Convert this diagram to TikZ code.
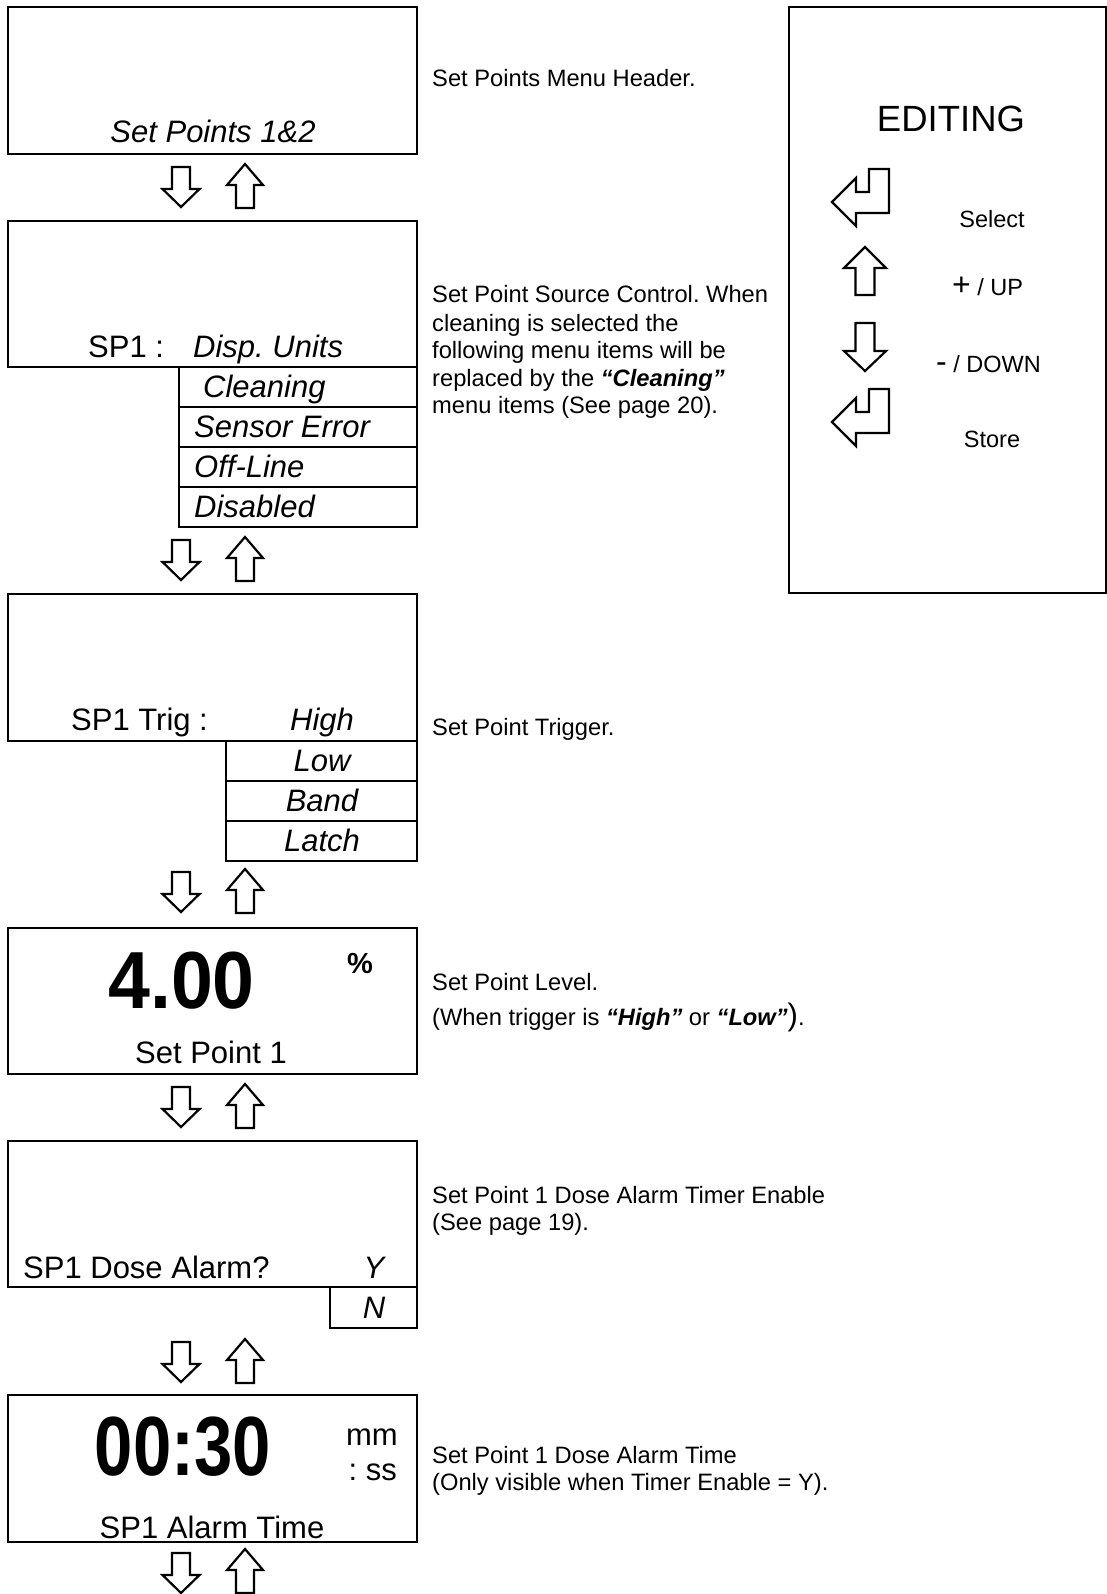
\documentclass[tikz,border=0pt]{standalone}
\usepackage{fontspec}
\setmainfont{Liberation Sans}
\usepackage{graphicx}
\frenchspacing
\newcommand{\fsz}[1]{\fontsize{#1}{#1}\selectfont}
\tikzset{
  box/.style={draw, line width=2pt, rectangle, inner sep=0pt, outer sep=0pt, anchor=north west},
  lcd/.style={font=\fsz{31}, inner sep=0pt},
  lcdit/.style={font=\fsz{31}\itshape, inner sep=0pt},
  desc/.style={font=\fsz{23.7}, inner sep=0pt, anchor=base west},
  edtxt/.style={font=\fsz{23.5}, inner sep=0pt},
  arrline/.style={draw, line width=2.2pt, line join=miter, fill=white},
  dnarr/.pic={\path[arrline] (-9,0) -- (9,0) -- (9,22) -- (18.5,22) -- (0,40) -- (-18.5,22) -- (-9,22) -- cycle;},
  uparr/.pic={\path[arrline] (-9,0) -- (9,0) -- (9,-23) -- (18,-23) -- (0,-44) -- (-18,-23) -- (-9,-23) -- cycle;},
  bigup/.pic={\path[arrline] (-9.5,0) -- (9.5,0) -- (9.5,-27) -- (21,-27) -- (0,-48) -- (-21,-27) -- (-9.5,-27) -- cycle;},
  bigdn/.pic={\path[arrline] (-9.5,0) -- (9.5,0) -- (9.5,28) -- (21,28) -- (0,48) -- (-21,28) -- (-9.5,28) -- cycle;},
  enterarr/.pic={\path[arrline] (0,0) -- (24,-24) -- (24,-10) -- (37,-10) -- (37,-33) -- (57,-33) -- (57,11) -- (24,11) -- (24,24) -- cycle;}
}
\begin{document}
\begin{tikzpicture}[x=1pt,y=-1pt]
\useasboundingbox[fill=white] (0,0) rectangle (1107,1594);

% ---------- main column boxes ----------
\node[box, minimum width=409pt, minimum height=147pt] (b1) at (8,7) {};
\node[box, minimum width=409pt, minimum height=146pt] (b2) at (8,221) {};
\node[box, minimum width=238pt, minimum height=40pt] (s2a) at (179,367) {};
\node[box, minimum width=238pt, minimum height=40pt] (s2b) at (179,407) {};
\node[box, minimum width=238pt, minimum height=40pt] (s2c) at (179,447) {};
\node[box, minimum width=238pt, minimum height=40pt] (s2d) at (179,487) {};
\node[box, minimum width=409pt, minimum height=147pt] (b3) at (8,594) {};
\node[box, minimum width=191pt, minimum height=40pt] (s3a) at (226,741) {};
\node[box, minimum width=191pt, minimum height=40pt] (s3b) at (226,781) {};
\node[box, minimum width=191pt, minimum height=40pt] (s3c) at (226,821) {};
\node[box, minimum width=409pt, minimum height=146pt] (b4) at (8,928) {};
\node[box, minimum width=409pt, minimum height=146pt] (b5) at (8,1141) {};
\node[box, minimum width=87pt, minimum height=41pt] (s5) at (330,1287) {};
\node[box, minimum width=409pt, minimum height=147pt] (b6) at (8,1395) {};

% ---------- box texts ----------
\node[lcdit, anchor=base] (t1) at (213,143) {Set Points 1\&2};
\node[lcd, anchor=base west] (t2a) at (88,357) {SP1 :};
\node[lcdit, anchor=base west] (t2b) at (193,357) {Disp. Units};
\node[lcdit, anchor=base west] (t2c) at (203,397) {Cleaning};
\node[lcdit, anchor=base west] (t2d) at (194,437) {Sensor Error};
\node[lcdit, anchor=base west] (t2e) at (194,477) {Off-Line};
\node[lcdit, anchor=base west] (t2f) at (194,517) {Disabled};

\node[lcd, anchor=base west] (t3a) at (71,730) {SP1 Trig :};
\node[lcdit, anchor=base] (t3b) at (322,730) {High};
\node[lcdit, anchor=base] (t3c) at (322,771) {Low};
\node[lcdit, anchor=base] (t3d) at (322,811) {Band};
\node[lcdit, anchor=base] (t3e) at (322,851) {Latch};

\node[inner sep=0pt, anchor=base west] (t4a) at (108,1008) {\scalebox{0.93}[1]{\fsz{81}\bfseries 4.00}};
\node[inner sep=0pt, anchor=base, font=\fsz{29}\bfseries] (t4b) at (360,973) {\%};
\node[lcd, anchor=base] (t4c) at (211,1063) {Set Point 1};

\node[lcd, anchor=base west] (t5a) at (23,1278) {SP1 Dose Alarm?};
\node[lcdit, anchor=base] (t5b) at (374,1278) {Y};
\node[lcdit, anchor=base] (t5c) at (374,1318) {N};

\node[inner sep=0pt, anchor=base] (t6a) at (183,1475) {\scalebox{0.82}[1]{\fsz{84}\bfseries 00:30}};
\node[lcd, anchor=base east] (t6b) at (398,1445) {mm};
\node[lcd, anchor=base east] (t6c) at (397,1480) {: ss};
\node[lcd, anchor=base] (t6d) at (212,1538) {SP1 Alarm Time};

% ---------- navigation arrows ----------
\pic at (181,167) {dnarr}; \pic at (245,208) {uparr};
\pic at (181,540) {dnarr}; \pic at (245,581) {uparr};
\pic at (181,872) {dnarr}; \pic at (245,913) {uparr};
\pic at (181,1087) {dnarr}; \pic at (245,1128) {uparr};
\pic at (181,1342) {dnarr}; \pic at (245,1383) {uparr};
\pic at (181,1553) {dnarr}; \pic at (245,1593) {uparr};

% ---------- descriptions ----------
\node[desc] (d1) at (432,87) {Set Points Menu Header.};
\node[desc] (d2a) at (432,303) {Set Point Source Control. When};
\node[desc] (d2b) at (432,331) {cleaning is selected the};
\node[desc] (d2c) at (432,358) {following menu items will be};
\node[desc] (d2d) at (432,386) {replaced by the \textbf{\textit{“Cleaning”}}};
\node[desc] (d2e) at (432,413) {menu items (See page 20).};
\node[desc] (d3) at (432,735) {Set Point Trigger.};
\node[desc] (d4a) at (432,990) {Set Point Level.};
\node[desc] (d4b) at (432,1025) {(When trigger is \textbf{\textit{“High”}} or \textbf{\textit{“Low”}}{\fsz{31})}.};
\node[desc] (d5a) at (432,1203) {Set Point 1 Dose Alarm Timer Enable};
\node[desc] (d5b) at (432,1230) {(See page 19).};
\node[desc] (d6a) at (432,1463) {Set Point 1 Dose Alarm Time};
\node[desc] (d6b) at (432,1490) {(Only visible when Timer Enable = Y).};

% ---------- editing panel ----------
\node[box, minimum width=317pt, minimum height=586pt] (ed) at (789,7) {};
\node[inner sep=0pt, anchor=base, font=\fsz{36.5}] (edh) at (951,132) {EDITING};
\pic at (832,202) {enterarr};
\node[edtxt, anchor=base] (esel) at (992,228) {Select};
\pic at (865,295) {bigup};
\node[edtxt, anchor=base west] (eup) at (952,295) {{\fsz{32}+} / UP};
\pic at (865,323) {bigdn};
\node[edtxt, anchor=base west] (edn) at (936,372) {{\fsz{32}-} / DOWN};
\pic at (832,422) {enterarr};
\node[edtxt, anchor=base] (esto) at (992,447) {Store};
\end{tikzpicture}
\end{document}
